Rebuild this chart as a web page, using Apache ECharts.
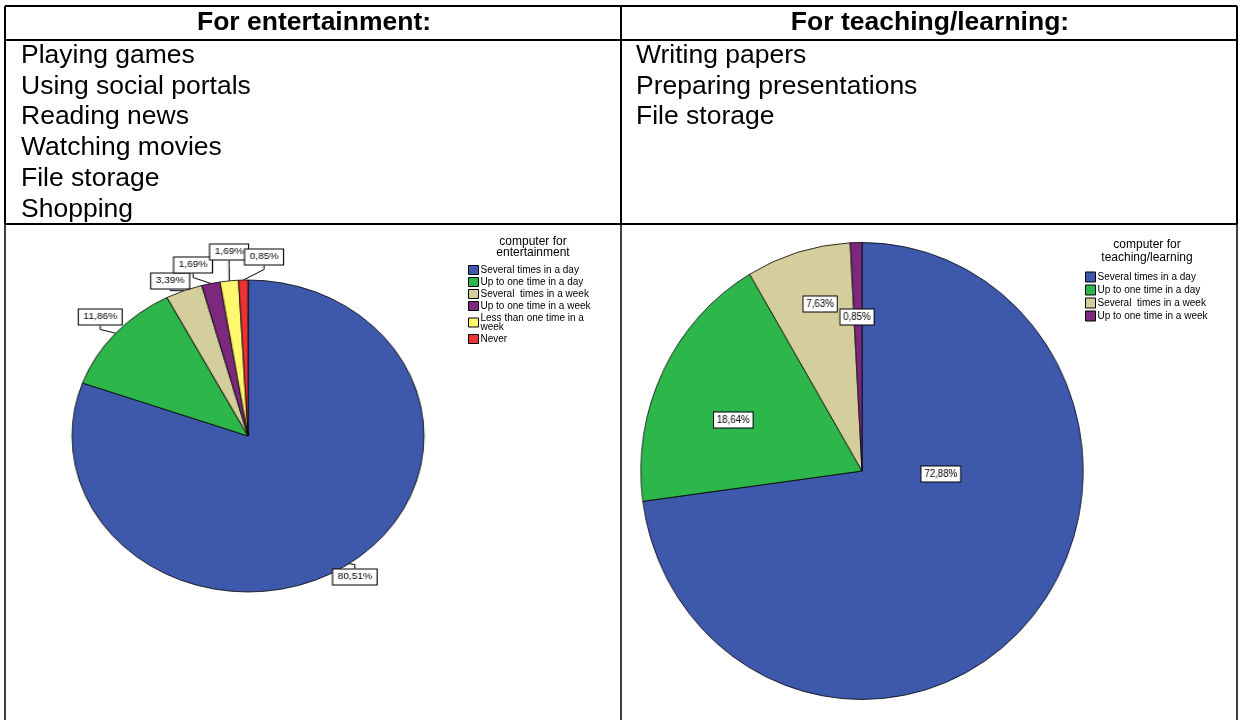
<!DOCTYPE html>
<html><head><meta charset="utf-8">
<script src="https://cdn.jsdelivr.net/npm/echarts@6/dist/echarts.min.js"></script>
<style>
html,body{margin:0;padding:0;background:#fff;overflow:hidden;}
.c{position:absolute;left:0;top:0;width:1242px;height:720px;}
#p1{transform-origin:248px 436px;transform:scaleX(1.128);}
#p2{transform-origin:862px 471px;transform:scaleX(0.968);}
</style></head><body>
<div id="main" class="c"></div><div id="p1" class="c"></div><div id="p2" class="c"></div>
<script>
// ---- data ----
const headers = ['For entertainment:', 'For teaching/learning:'];
const entActivities = ['Playing games', 'Using social portals', 'Reading news', 'Watching movies', 'File storage', 'Shopping'];
const teachActivities = ['Writing papers', 'Preparing presentations', 'File storage'];
const legendTitles = ['computer for\nentertainment', 'computer for\nteaching/learning'];
const entCategories = ['Several times in a day', 'Up to one time in a day', 'Several  times in a week', 'Up to one time in a week', 'Less than one time in a week', 'Never'];
const entValues = [80.51, 11.86, 3.39, 1.69, 1.69, 0.85];
const teachCategories = ['Several times in a day', 'Up to one time in a day', 'Several  times in a week', 'Up to one time in a week'];
const teachValues = [72.88, 18.64, 7.63, 0.85];

// ---- styles ----
const colors = ['#3e58ac', '#2db64a', '#d4ce9c', '#7b287d', '#fdf86e', '#ef3236'];
const FONT = '"Liberation Sans", Arial, sans-serif';
const entLabelPlace = [[342.7, 577], [117, 317], [179, 281], [199.3, 265], [231.2, 252], [262.2, 257]];
const teachLabelPlace = [[943.4, 474], [729, 420], [818.7, 304], [856.8, 317]];

const fmt = v => v.toFixed(2).replace('.', ',') + '%';
const mk = (cats, vals) => cats.map((n, i) => ({ name: n, value: vals[i], itemStyle: { color: colors[i] } }));

// ---- main: table + legends ----
const main = echarts.init(document.getElementById('main'), null, { renderer: 'canvas' });
const g = [];
const line = (x1, y1, x2, y2, w) => g.push({ type: 'line', shape: { x1, y1, x2, y2 }, style: { stroke: '#000', lineWidth: w }, silent: true });
line(5, 6, 1237, 6, 2);
line(5, 40, 1237, 40, 2);
line(5, 224, 1237, 224, 2);
line(5, 6, 5, 224, 2); line(5, 224, 5, 720, 1.5);
line(621, 6, 621, 224, 2); line(621, 224, 621, 720, 1.5);
line(1237, 6, 1237, 224, 2); line(1237, 224, 1237, 720, 1.5);
const txt = (text, x, y, font, align) => g.push({ type: 'text', silent: true, style: { text, x, y, font, fill: '#000', textAlign: align, textVerticalAlign: 'middle' } });
txt(headers[0], 314, 23, 'bold 26.5px ' + FONT, 'center');
txt(headers[1], 930, 23, 'bold 26.5px ' + FONT, 'center');
entActivities.forEach((t, i) => txt(t, 21, 55.5 + i * 30.8, '26.5px ' + FONT, 'left'));
teachActivities.forEach((t, i) => txt(t, 636, 55.5 + i * 30.8, '26.5px ' + FONT, 'left'));
g.push({ type: 'text', silent: true, style: { text: legendTitles[0], x: 533, y: 247.5, font: '12px ' + FONT, lineHeight: 11, fill: '#000', textAlign: 'center', textVerticalAlign: 'middle' } });
g.push({ type: 'text', silent: true, style: { text: legendTitles[1], x: 1147, y: 251, font: '12px ' + FONT, lineHeight: 13, fill: '#000', textAlign: 'center', textVerticalAlign: 'middle' } });

const hiddenPie = (cats, vals) => ({ type: 'pie', silent: true, center: [-200, -200], radius: 1, label: { show: false }, labelLine: { show: false }, data: mk(cats, vals) });
main.setOption({
  animation: false,
  graphic: g,
  legend: [
    { data: entCategories, orient: 'vertical', left: 468, top: 265, padding: 0, icon: 'rect', itemWidth: 10, itemHeight: 9, itemGap: 2,
      itemStyle: { borderColor: '#000', borderWidth: 1 },
      textStyle: { fontFamily: FONT, fontSize: 10, lineHeight: 9, color: '#000', width: 115, overflow: 'break', padding: [0, 0, 0, -3] } },
    { data: teachCategories, orient: 'vertical', left: 1085, top: 271.5, padding: 0, icon: 'rect', itemWidth: 10, itemHeight: 10, itemGap: 2,
      itemStyle: { borderColor: '#000', borderWidth: 1 },
      textStyle: { fontFamily: FONT, fontSize: 10, lineHeight: 11, color: '#000', padding: [0, 0, 0, -3] } }
  ],
  series: [hiddenPie(entCategories, entValues), hiddenPie(teachCategories, teachValues)]
});

// ---- pie charts ----
const labelStyle = (fs, pad) => ({ show: true, formatter: p => fmt(p.value), fontFamily: FONT, fontSize: fs, lineHeight: 11, color: '#000',
  backgroundColor: '#fff', borderColor: '#000', borderWidth: 1, padding: pad });

const p1 = echarts.init(document.getElementById('p1'));
p1.setOption({
  animation: false,
  series: [{
    type: 'pie', center: [248, 436], radius: 156, startAngle: 90, clockwise: true, avoidLabelOverlap: false,
    itemStyle: { borderColor: '#000', borderWidth: 0.8 },
    emphasis: { disabled: true },
    label: Object.assign({ position: 'outside' }, labelStyle(9, [2, 4])),
    labelLine: { show: true, length: 10, length2: 4, lineStyle: { color: '#000', width: 1 } },
    labelLayout: p => ({ x: entLabelPlace[p.dataIndex][0], y: entLabelPlace[p.dataIndex][1], align: 'center', verticalAlign: 'middle' }),
    data: mk(entCategories, entValues)
  }]
});

const p2 = echarts.init(document.getElementById('p2'));
p2.setOption({
  animation: false,
  series: [{
    type: 'pie', center: [862, 471], radius: 228.5, startAngle: 90, clockwise: true, avoidLabelOverlap: false,
    itemStyle: { borderColor: '#000', borderWidth: 0.8 },
    emphasis: { disabled: true },
    label: Object.assign({ position: 'inside' }, labelStyle(10, [2, 3])),
    labelLine: { show: false },
    labelLayout: p => ({ x: teachLabelPlace[p.dataIndex][0], y: teachLabelPlace[p.dataIndex][1], align: 'center', verticalAlign: 'middle' }),
    data: mk(teachCategories, teachValues)
  }]
});
</script>
</body></html>
